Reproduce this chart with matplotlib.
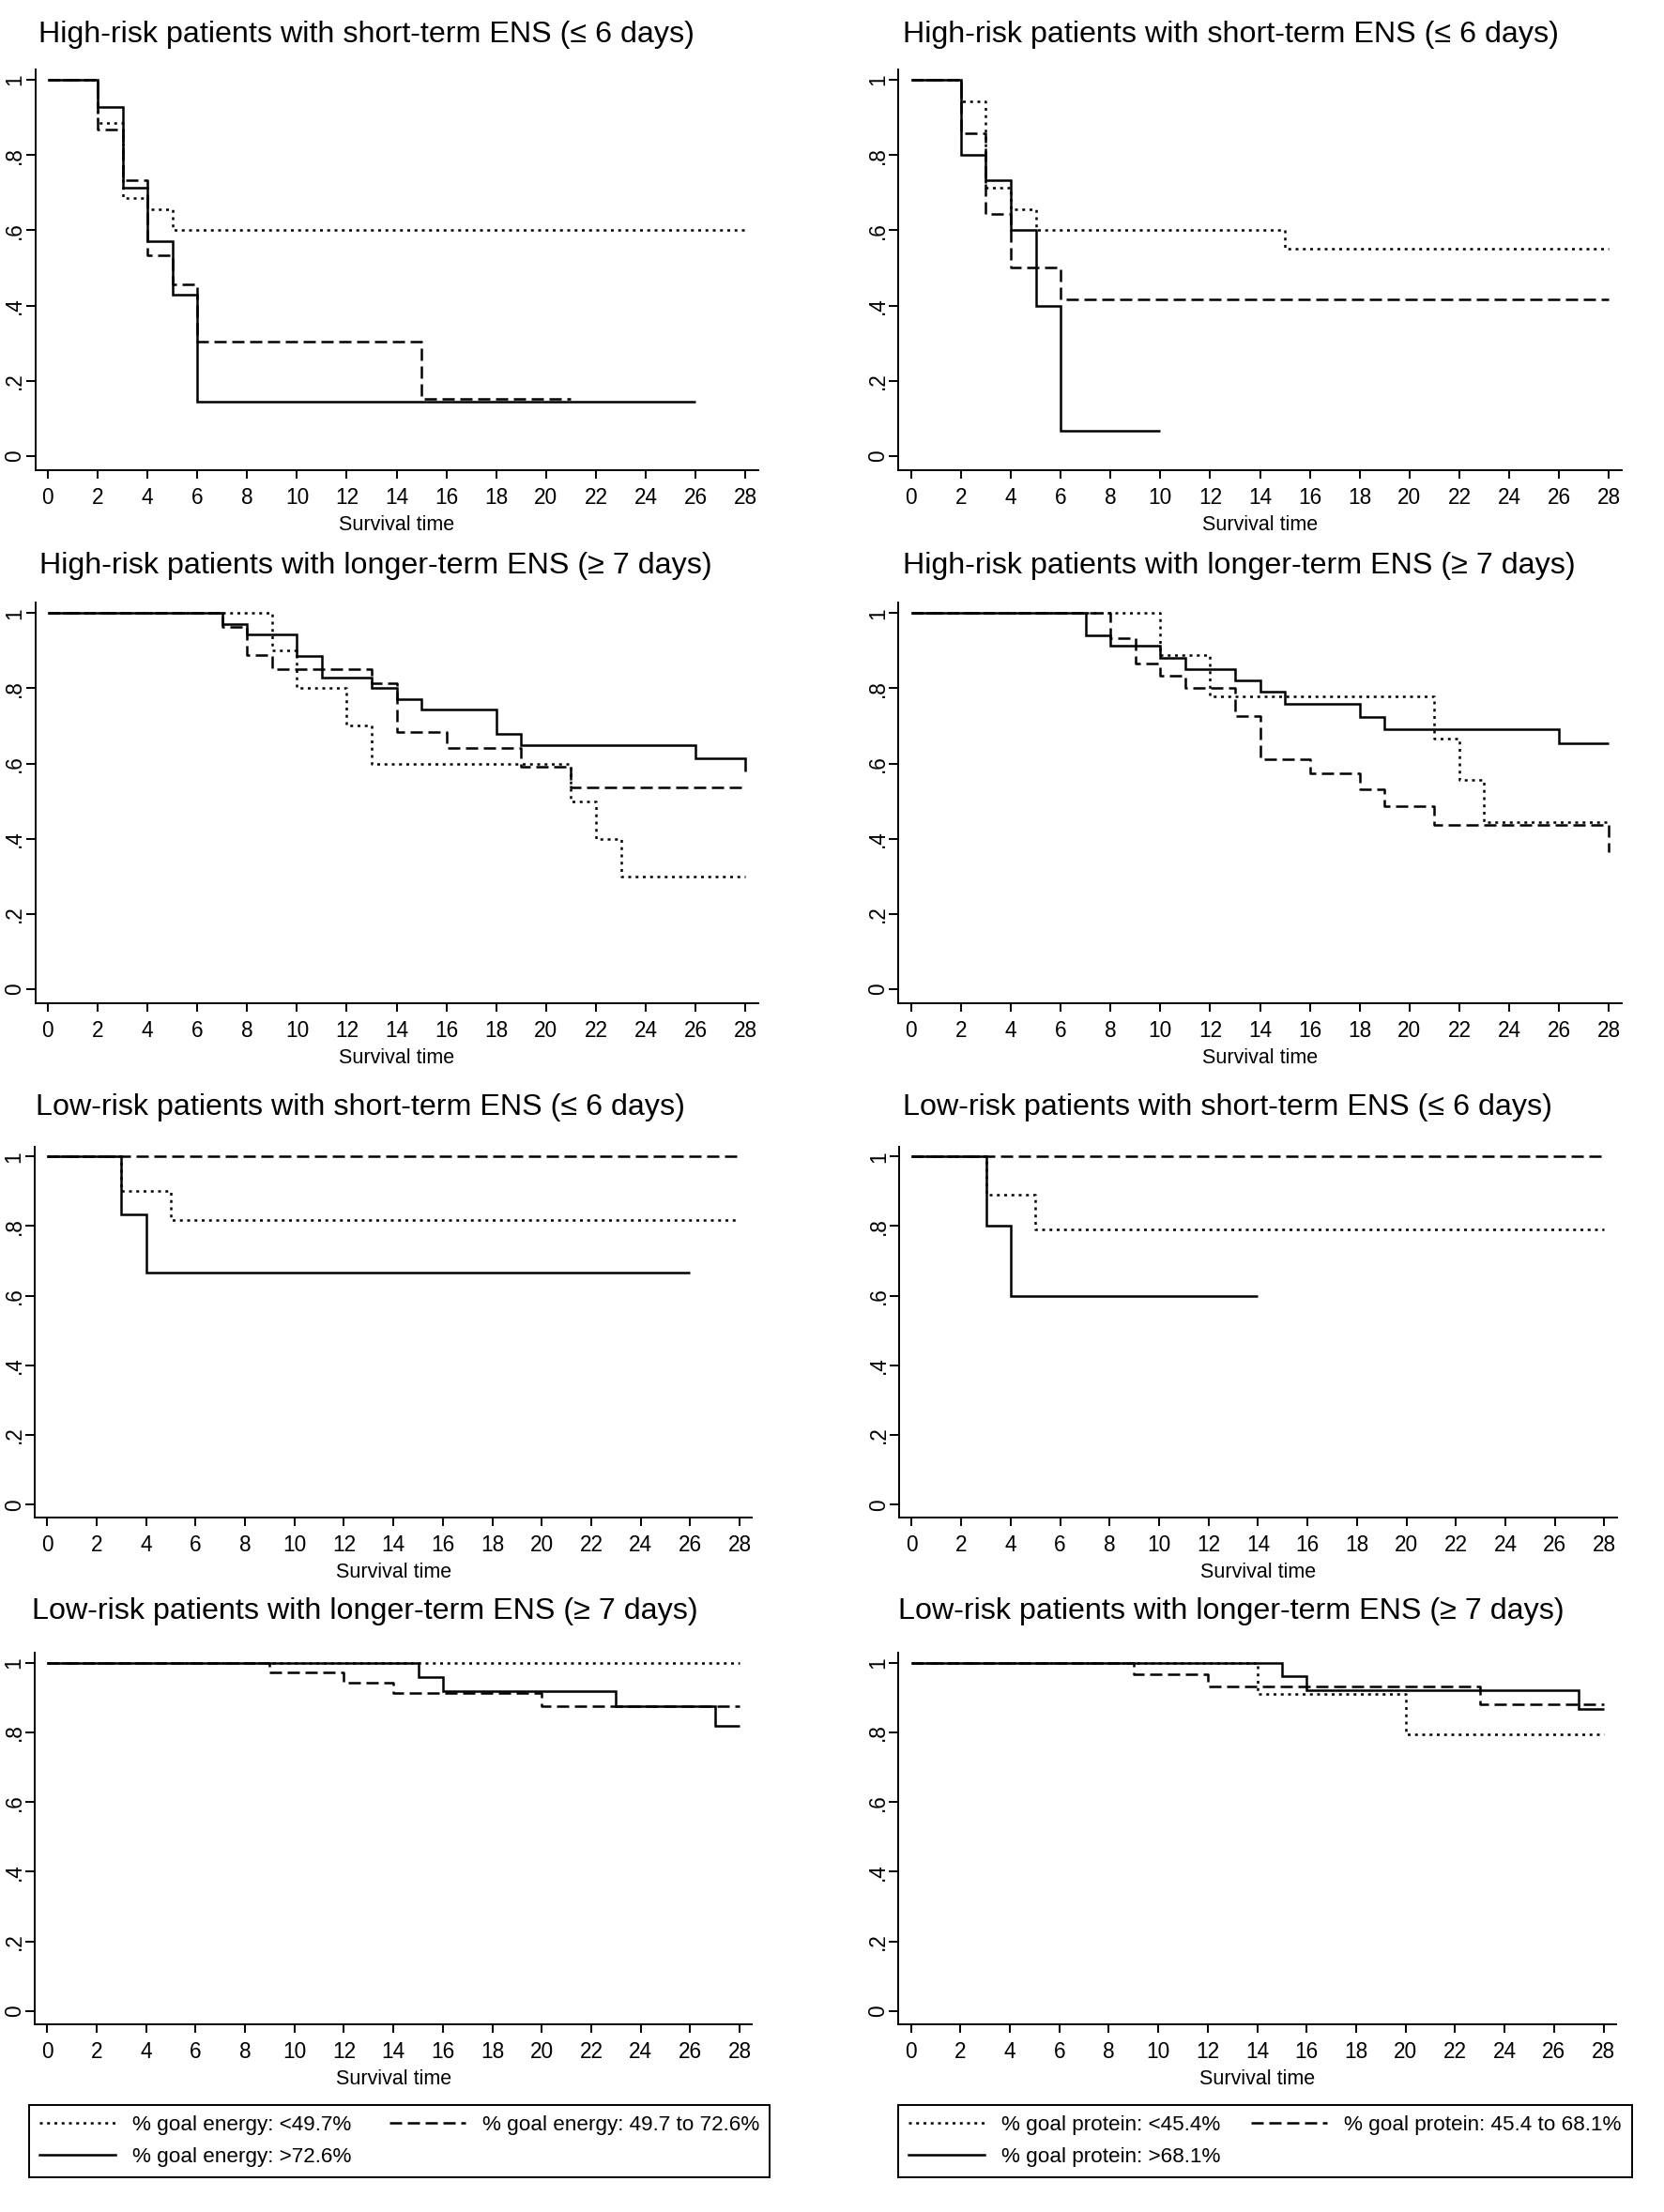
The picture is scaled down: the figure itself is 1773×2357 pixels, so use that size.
import matplotlib
matplotlib.use("Agg")
import matplotlib.pyplot as plt
from matplotlib import font_manager
from matplotlib.lines import Line2D

# ---------------- data ----------------
# Energy column
E_HS_lo_t = [0, 2, 3, 4, 5, 28]
E_HS_lo_s = [1, 0.886, 0.686, 0.657, 0.600, 0.600]
E_HS_mid_t = [0, 2, 3, 4, 5, 6, 15, 21]
E_HS_mid_s = [1, 0.867, 0.733, 0.533, 0.457, 0.305, 0.152, 0.152]
E_HS_hi_t = [0, 2, 3, 4, 5, 6, 26]
E_HS_hi_s = [1, 0.929, 0.714, 0.571, 0.429, 0.143, 0.143]

E_HL_lo_t = [0, 9, 10, 12, 13, 21, 22, 23, 28]
E_HL_lo_s = [1, 0.900, 0.800, 0.700, 0.600, 0.500, 0.400, 0.300, 0.300]
E_HL_mid_t = [0, 7, 8, 9, 13, 14, 16, 19, 21, 28]
E_HL_mid_s = [1, 0.963, 0.889, 0.852, 0.813, 0.683, 0.641, 0.591, 0.537, 0.537]
E_HL_hi_t = [0, 7, 8, 10, 11, 13, 14, 15, 18, 19, 26, 28]
E_HL_hi_s = [1, 0.971, 0.943, 0.886, 0.829, 0.800, 0.771, 0.743, 0.679, 0.648, 0.614, 0.580]

E_LS_lo_t = [0, 3, 5, 28]
E_LS_lo_s = [1, 0.900, 0.818, 0.818]
E_LS_mid_t = [0, 28]
E_LS_mid_s = [1, 1]
E_LS_hi_t = [0, 3, 4, 26]
E_LS_hi_s = [1, 0.833, 0.667, 0.667]

E_LL_lo_t = [0, 28]
E_LL_lo_s = [1, 1]
E_LL_mid_t = [0, 9, 12, 14, 20, 28]
E_LL_mid_s = [1, 0.971, 0.943, 0.913, 0.874, 0.874]
E_LL_hi_t = [0, 15, 16, 23, 27, 28]
E_LL_hi_s = [1, 0.960, 0.919, 0.874, 0.820, 0.820]

# Protein column
P_HS_lo_t = [0, 2, 3, 4, 5, 15, 28]
P_HS_lo_s = [1, 0.943, 0.714, 0.657, 0.600, 0.550, 0.550]
P_HS_mid_t = [0, 2, 3, 4, 6, 28]
P_HS_mid_s = [1, 0.857, 0.643, 0.500, 0.417, 0.417]
P_HS_hi_t = [0, 2, 3, 4, 5, 6, 10]
P_HS_hi_s = [1, 0.800, 0.733, 0.600, 0.400, 0.067, 0.067]

P_HL_lo_t = [0, 10, 12, 21, 22, 23, 28]
P_HL_lo_s = [1, 0.889, 0.778, 0.667, 0.556, 0.444, 0.444]
P_HL_mid_t = [0, 8, 9, 10, 11, 13, 14, 16, 18, 19, 21, 28]
P_HL_mid_s = [1, 0.933, 0.867, 0.833, 0.800, 0.727, 0.612, 0.574, 0.531, 0.486, 0.437, 0.364]
P_HL_hi_t = [0, 7, 8, 10, 11, 13, 14, 15, 18, 19, 26, 28]
P_HL_hi_s = [1, 0.941, 0.912, 0.881, 0.850, 0.820, 0.790, 0.759, 0.724, 0.690, 0.655, 0.655]

P_LS_lo_t = [0, 3, 5, 28]
P_LS_lo_s = [1, 0.889, 0.790, 0.790]
P_LS_mid_t = [0, 28]
P_LS_mid_s = [1, 1]
P_LS_hi_t = [0, 3, 4, 14]
P_LS_hi_s = [1, 0.800, 0.600, 0.600]

P_LL_lo_t = [0, 14, 20, 28]
P_LL_lo_s = [1, 0.909, 0.795, 0.795]
P_LL_mid_t = [0, 9, 12, 23, 28]
P_LL_mid_s = [1, 0.967, 0.933, 0.882, 0.882]
P_LL_hi_t = [0, 15, 16, 27, 28]
P_LL_hi_s = [1, 0.962, 0.920, 0.867, 0.867]

row_titles = [
    "High-risk patients with short-term ENS (\u2264 6 days)",
    "High-risk patients with longer-term ENS (\u2265 7 days)",
    "Low-risk patients with short-term ENS (\u2264 6 days)",
    "Low-risk patients with longer-term ENS (\u2265 7 days)",
]
energy_labels = ["% goal energy: <49.7%", "% goal energy: 49.7 to 72.6%", "% goal energy: >72.6%"]
protein_labels = ["% goal protein: <45.4%", "% goal protein: 45.4 to 68.1%", "% goal protein: >68.1%"]
x_ticks = list(range(0, 29, 2))
y_ticks = [0, 0.2, 0.4, 0.6, 0.8, 1]
y_tick_labels = ["0", ".2", ".4", ".6", ".8", "1"]
x_label = "Survival time"

energy_panels = [
    [(E_HS_lo_t, E_HS_lo_s), (E_HS_mid_t, E_HS_mid_s), (E_HS_hi_t, E_HS_hi_s)],
    [(E_HL_lo_t, E_HL_lo_s), (E_HL_mid_t, E_HL_mid_s), (E_HL_hi_t, E_HL_hi_s)],
    [(E_LS_lo_t, E_LS_lo_s), (E_LS_mid_t, E_LS_mid_s), (E_LS_hi_t, E_LS_hi_s)],
    [(E_LL_lo_t, E_LL_lo_s), (E_LL_mid_t, E_LL_mid_s), (E_LL_hi_t, E_LL_hi_s)],
]
protein_panels = [
    [(P_HS_lo_t, P_HS_lo_s), (P_HS_mid_t, P_HS_mid_s), (P_HS_hi_t, P_HS_hi_s)],
    [(P_HL_lo_t, P_HL_lo_s), (P_HL_mid_t, P_HL_mid_s), (P_HL_hi_t, P_HL_hi_s)],
    [(P_LS_lo_t, P_LS_lo_s), (P_LS_mid_t, P_LS_mid_s), (P_LS_hi_t, P_LS_hi_s)],
    [(P_LL_lo_t, P_LL_lo_s), (P_LL_mid_t, P_LL_mid_s), (P_LL_hi_t, P_LL_hi_s)],
]

# ---------------- fonts ----------------
names = {f.name for f in font_manager.fontManager.ttflist}
FONT = "Liberation Sans" if "Liberation Sans" in names else "DejaVu Sans"
plt.rcParams["font.family"] = [FONT, "DejaVu Sans"]

# ---------------- layout (pixel geometry) ----------------
W, H = 1773, 2357
fig = plt.figure(figsize=(W / 100, H / 100), dpi=100)
fig.patch.set_facecolor("white")

def px_axes(left, top, width, height):
    return fig.add_axes([left / W, 1 - (top + height) / H, width / W, height / H])

# (left, width) per column and row; (top, bottom) per row
col_geom = [
    [(37.6, 770.0), (37.6, 770.0), (37.1, 764.2), (37.1, 764.2)],
    [(957.5, 770.0), (957.5, 770.0), (958.3, 764.2), (957.5, 764.2)],
]
rows = [(73.9, 501.0), (642.0, 1069.3), (1221.9, 1617.3), (1761.3, 2157.1)]
title_y = [37, 603, 1180, 1717.5]
title_x = [[41, 42, 38, 34], [962, 962, 962, 957]]

LW = 1.8
styles = [
    dict(linestyle=(0, (1.2, 1.9)), linewidth=LW),
    dict(linestyle=(0, (5.2, 2.4)), linewidth=LW),
    dict(linestyle="-", linewidth=LW),
]

for c, panels in enumerate([energy_panels, protein_panels]):
    for r, series in enumerate(panels):
        top, bot = rows[r]
        left, width = col_geom[c][r]
        ax = px_axes(left, top, width, bot - top)
        for (t, s), st in zip(series, styles):
            ax.step(t, s, where="post", color="black", solid_capstyle="butt",
                    dash_capstyle="butt", solid_joinstyle="miter", **st)
        ax.set_xlim(-0.5, 28.5)
        ax.set_ylim(-0.038, 1.028)
        ax.spines["top"].set_visible(False)
        ax.spines["right"].set_visible(False)
        for sp in ("left", "bottom"):
            ax.spines[sp].set_linewidth(1.4)
        ax.set_xticks(x_ticks)
        ax.set_xticklabels([str(v) for v in x_ticks], fontsize=16.3)
        ax.set_yticks(y_ticks)
        ax.set_yticklabels(y_tick_labels, fontsize=16.3, rotation=90, va="center")
        ax.tick_params(axis="x", direction="out", length=6.5, width=1.4, pad=6.5)
        ax.tick_params(axis="y", direction="out", length=7, width=1.4, pad=0.5)
        ax.set_xlabel(x_label, fontsize=15.5, labelpad=5)
        fig.text(title_x[c][r] / W, 1 - title_y[r] / H, row_titles[r],
                 ha="left", va="center", fontsize=23.2)

# ---------------- legends ----------------
# (left, top, width, height) in pixels
legend_boxes = [(31, 2243, 789, 89), (957, 2243, 782, 89)]
for (bx, by, bw, bh), labels in zip(legend_boxes, [energy_labels, protein_labels]):
    handles = [Line2D([], [], color="black", **st) for st in styles]
    order = [0, 2, 1]
    leg = fig.legend([handles[i] for i in order], [labels[i] for i in order],
                     ncol=2, loc="upper left", mode="expand",
                     bbox_to_anchor=(bx / W, 1 - (by + bh) / H, bw / W, bh / H),
                     borderaxespad=0, frameon=True, fancybox=False,
                     edgecolor="black", framealpha=1, handlelength=3.6,
                     handletextpad=0.8, borderpad=0.5, labelspacing=0.55,
                     columnspacing=1.5, fontsize=16.2)
    leg.get_frame().set_linewidth(1.4)

fig.savefig("out.png", dpi=100, facecolor="white")
